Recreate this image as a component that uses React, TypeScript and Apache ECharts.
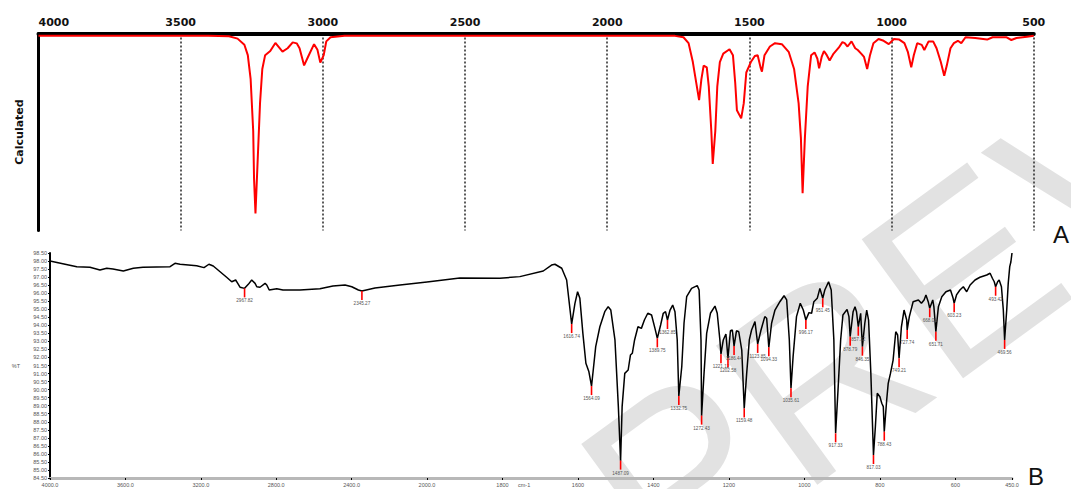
import React, { useEffect, useRef } from "react";
import * as echarts from "echarts";

// Calculated IR spectrum: [wavenumber cm-1, relative intensity]
const calculatedSpectrum: [number, number][] = [
  [4000, 1.2], [3403, 1.2], [3330, 1.4], [3300, 2.6], [3276, 5.7], [3264, 11], [3254, 23.2],
  [3245, 49.4], [3242, 73.9], [3237, 91.4], [3230, 66.9], [3221, 35.4], [3213, 18], [3203, 11],
  [3185, 8.9], [3167, 4.8], [3142, 9.2], [3124, 7.5], [3106, 4.5], [3092, 5], [3082, 7.5],
  [3066, 16.2], [3052, 11.8], [3031, 5.4], [3019, 8.3], [3009, 14.8], [2997, 11], [2988, 4],
  [2973, 1.9], [2924, 1.2], [1762, 1.2], [1732, 1.9], [1714, 4.9], [1699, 14.5], [1689, 23.3],
  [1677, 33.8], [1669, 23.3], [1661, 16.3], [1650, 17.2], [1643, 26.8], [1634, 49.5], [1629, 66.2],
  [1620, 49.5], [1613, 26.8], [1604, 14.5], [1592, 10.2], [1570, 8], [1558, 11], [1550, 25],
  [1544, 39], [1529, 43.1], [1520, 35.5], [1511, 19.8], [1495, 14.5], [1481, 11.4], [1471, 11],
  [1461, 17.2], [1456, 19.4], [1447, 11], [1428, 6.6], [1410, 4.9], [1386, 5.4], [1362, 9.3],
  [1343, 18], [1327, 35.5], [1319, 53], [1313, 81.1], [1305, 53], [1295, 26.8], [1283, 11],
  [1271, 9.6], [1261, 12.8], [1255, 17.7], [1246, 11.9], [1238, 8.9], [1228, 11], [1218, 13.7],
  [1204, 10.2], [1186, 7.2], [1173, 4.4], [1165, 4.9], [1155, 6.6], [1141, 4], [1128, 7.5],
  [1119, 8.4], [1107, 10.2], [1097, 11.9], [1086, 18], [1076, 11], [1064, 4.9], [1046, 2.8],
  [1028, 3.7], [1010, 5.4], [992, 2.8], [973, 3.1], [955, 4.9], [943, 9.3], [931, 17.2],
  [922, 11], [910, 4.9], [894, 5.8], [885, 8.4], [870, 4], [854, 4], [842, 7.5], [827, 14.5],
  [815, 21.5], [806, 16.3], [793, 7.5], [781, 4.9], [767, 3.7], [755, 4.9], [740, 1.9],
  [706, 2.3], [664, 3.1], [645, 1.9], [597, 1.9], [579, 3.3], [561, 2.3], [524, 1.6], [500, 1.2],
];

// Measured FT-IR transmittance: [wavenumber cm-1, %T]
const measuredSpectrum: [number, number][] = [
  [4000, 98.0], [3858, 97.65], [3788, 97.61], [3735, 97.44], [3699, 97.55], [3666, 97.5],
  [3611, 97.38], [3558, 97.55], [3507, 97.61], [3363, 97.65], [3337, 97.86], [3310, 97.8],
  [3222, 97.71], [3183, 97.59], [3157, 97.8], [3134, 97.69], [3063, 96.99], [3036, 96.71],
  [3015, 96.82], [3004, 96.61], [2992, 96.37], [2967.82, 96.3], [2948, 96.55], [2930, 96.82],
  [2912, 96.61], [2903, 96.4], [2886, 96.37], [2859, 96.61], [2850, 96.51], [2837, 96.2],
  [2797, 96.28], [2764, 96.2], [2674, 96.2], [2568, 96.28], [2499, 96.45], [2435, 96.51],
  [2399, 96.4], [2364, 96.2], [2345.27, 96.14], [2276, 96.32], [2143, 96.51], [2000, 96.7],
  [1913, 96.94], [1807, 96.93], [1754, 97.03], [1692, 97.38], [1670, 97.75], [1661, 97.8],
  [1643, 97.55], [1630, 96.82], [1624, 95.58], [1616.74, 94.08], [1608, 95.37], [1601, 96.09],
  [1595, 95.68], [1587, 93.5], [1579, 91.64], [1571, 91.11], [1564.09, 90.22], [1560, 91.11],
  [1553, 92.67], [1542, 93.91], [1529, 94.85], [1520, 95.16], [1513, 94.95], [1502, 93.09],
  [1493, 88.94], [1487.09, 85.58], [1483, 88.94], [1476, 91.01], [1467, 91.22], [1461, 92.15],
  [1456, 92.26], [1450, 93.09], [1441, 93.91], [1432, 93.81], [1424, 94.33], [1415, 94.75],
  [1405, 94.64], [1396, 93.81], [1389.75, 93.19], [1381, 94.02], [1374, 94.75], [1368, 94.85],
  [1362.85, 94.33], [1356, 94.95], [1349, 95.26], [1343, 94.85], [1337, 93.09], [1332.75, 89.6],
  [1325, 91.42], [1319, 94.13], [1312, 95.78], [1299, 96.3], [1284, 96.47], [1279, 96.2],
  [1274, 93.09], [1272.43, 88.38], [1266, 91.01], [1259, 93.5], [1249, 94.75], [1237, 95.2],
  [1231, 94.75], [1224, 93.09], [1221.12, 92.2], [1215, 93.09], [1208, 93.46], [1202.58, 91.95],
  [1196, 93.66], [1191, 93.71], [1186.44, 92.71], [1180, 93.66], [1174, 93.6], [1166, 92.46],
  [1159.48, 88.83], [1153, 91.01], [1146, 93.09], [1140, 93.71], [1131, 94.23], [1123.85, 92.84],
  [1115, 93.71], [1105, 94.54], [1100, 94.44], [1094.33, 92.63], [1087, 94.13], [1078, 94.95],
  [1065, 95.47], [1054, 95.84], [1047, 95.58], [1040, 93.09], [1035.61, 90.08], [1030, 92.05],
  [1021, 94.54], [1011, 95.37], [1003, 94.95], [996.17, 94.33], [988, 94.79], [981, 94.75],
  [975, 95.47], [966, 95.68], [959, 96.3], [951.45, 95.68], [946, 96.2], [936, 96.71],
  [929, 96.2], [922, 93.09], [917.33, 87.28], [911, 89.97], [904, 93.09], [898, 94.64],
  [887, 94.99], [882, 94.54], [878.79, 93.29], [871, 94.85], [866, 95.16], [862, 94.85],
  [857.32, 93.91], [851, 94.75], [846.35, 92.67], [840, 94.13], [835, 94.95], [830, 94.33],
  [824, 91.01], [817.03, 85.93], [812, 87.69], [807, 89.77], [800, 89.56], [795, 89.15],
  [791, 88.94], [788.43, 87.38], [782, 89.35], [778, 90.39], [772, 91.01], [765, 91.84],
  [758, 93.6], [753, 93.4], [749.21, 91.95], [743, 93.91], [736, 94.95], [729, 94.33],
  [727.74, 93.71], [722, 94.54], [712, 95.47], [698, 95.58], [690, 95.37], [683, 95.58],
  [678, 95.89], [672, 95.47], [668.01, 95.06], [660, 95.58], [657, 95.16], [651.71, 93.6],
  [645, 95.16], [636, 95.78], [625, 96.09], [613, 96.2], [606, 95.68], [603.23, 95.37],
  [597, 95.89], [588, 96.2], [579, 96.4], [570, 96.09], [561, 96.51], [548, 96.82],
  [535, 96.99], [517, 97.13], [508, 97.24], [502, 96.93], [497, 96.71], [493.42, 96.4],
  [488, 96.71], [484, 96.82], [478, 96.4], [473, 94.95], [469.56, 93.09], [464, 94.95],
  [460, 96.61], [456, 97.65], [453, 97.94], [450, 98.5],
];

// Picked peak positions (cm-1) on the measured spectrum
const measuredPeaks: number[] = [
  2967.82, 2345.27, 1616.74, 1564.09, 1487.09, 1389.75, 1362.85, 1332.75, 1272.43, 1221.12,
  1202.58, 1186.44, 1159.48, 1123.85, 1094.33, 1035.61, 996.17, 951.45, 917.33, 878.79,
  857.32, 846.35, 817.03, 788.43, 749.21, 727.74, 668.01, 651.71, 603.23, 493.42, 469.56,
];

// Tick labels of the fingerprint region (2x expanded scale below 2000 cm-1)
const fingerprintTicks: number[] = [1800, 1600, 1400, 1200, 1000, 800, 600, 450];

const SPLIT = 2000;
const smallFont = '"Liberation Sans", Arial, sans-serif';

function peakSeries(peaks: [number, number][], xAxisIndex: number, yAxisIndex: number) {
  return {
    type: "custom",
    xAxisIndex,
    yAxisIndex,
    data: peaks,
    z: 5,
    renderItem: (params: any, api: any) => {
      const p = api.coord([api.value(0), api.value(1)]);
      const label = peaks[params.dataIndex][0].toFixed(2);
      return {
        type: "group",
        children: [
          {
            type: "line",
            shape: { x1: p[0], y1: p[1], x2: p[0], y2: p[1] + 9 },
            style: { stroke: "#ff0000", lineWidth: 1.6 },
          },
          {
            type: "text",
            x: p[0],
            y: p[1] + 10,
            style: {
              text: label,
              fontSize: 4.6,
              fontFamily: smallFont,
              fill: "#555",
              align: "center",
              verticalAlign: "top",
            },
          },
        ],
      };
    },
  };
}

export default function App() {
  const ref = useRef<HTMLDivElement>(null);

  useEffect(() => {
    if (!ref.current) return;
    const chart = echarts.init(ref.current, null, { renderer: "svg" });

    const peakData: [number, number][] = measuredPeaks.map((wn) => {
      const pt = measuredSpectrum.find((d) => d[0] === wn);
      return [wn, pt ? pt[1] : 0];
    });

    const bottomAxisLine = { lineStyle: { color: "#b8b8b8", width: 3 } };
    const bottomTick = { show: true, length: 2, lineStyle: { color: "#000", width: 1 } };

    const option: any = {
      animation: false,
      backgroundColor: "#ffffff",
      grid: [
        { left: 38.5, top: 33.5, width: 995.3, height: 197 },
        { left: 50, top: 253, width: 377, height: 225 },
        { left: 427, top: 253, width: 585, height: 225 },
      ],
      xAxis: [
        {
          gridIndex: 0,
          type: "value",
          position: "top",
          inverse: true,
          min: 500,
          max: 4000,
          interval: 500,
          axisLine: { show: true, lineStyle: { color: "#000", width: 4 } },
          axisTick: { show: false },
          axisLabel: {
            margin: 6,
            fontFamily: '"DejaVu Sans", Verdana, sans-serif',
            fontWeight: "bold",
            fontSize: 11,
            color: "#111",
            alignMaxLabel: "left",
            formatter: (v: number) => String(v),
          },
          splitLine: { show: true, lineStyle: { color: "#333", width: 1.6, type: [2, 2] } },
        },
        {
          gridIndex: 1,
          type: "value",
          inverse: true,
          min: SPLIT,
          max: 4000,
          interval: 400,
          axisLine: bottomAxisLine,
          axisTick: bottomTick,
          axisLabel: {
            margin: 4,
            fontSize: 5.5,
            fontFamily: smallFont,
            color: "#555",
            formatter: (v: number) => v.toFixed(1),
          },
          splitLine: { show: false },
        },
        {
          gridIndex: 2,
          type: "value",
          inverse: true,
          min: 450,
          max: SPLIT,
          axisLine: bottomAxisLine,
          axisTick: { ...bottomTick, customValues: fingerprintTicks },
          axisLabel: {
            margin: 4,
            fontSize: 5.5,
            fontFamily: smallFont,
            color: "#555",
            customValues: fingerprintTicks,
            formatter: (v: number) => (v === 450 ? "450.0" : String(v)),
          },
          splitLine: { show: false },
        },
      ],
      yAxis: [
        {
          gridIndex: 0,
          type: "value",
          inverse: true,
          min: 0,
          max: 100,
          axisLine: { show: true, lineStyle: { color: "#000", width: 3 } },
          axisTick: { show: false },
          axisLabel: { show: false },
          splitLine: { show: false },
          name: "Calculated",
          nameLocation: "middle",
          nameRotate: 90,
          nameGap: 14,
          nameTextStyle: {
            fontFamily: '"DejaVu Sans", Verdana, sans-serif',
            fontWeight: "bold",
            fontSize: 11,
            color: "#111",
          },
        },
        {
          gridIndex: 1,
          type: "value",
          min: 84.5,
          max: 98.5,
          interval: 0.5,
          axisLine: { show: true, lineStyle: { color: "#000", width: 2 } },
          axisTick: { show: true, length: 2, lineStyle: { color: "#000" } },
          axisLabel: {
            margin: 3,
            fontSize: 5.5,
            fontFamily: smallFont,
            color: "#555",
            formatter: (v: number) => v.toFixed(2),
          },
          splitLine: { show: false },
          name: "%T",
          nameLocation: "middle",
          nameRotate: 0,
          nameGap: 30,
          nameTextStyle: { fontSize: 5.5, fontFamily: smallFont, color: "#555" },
        },
        {
          gridIndex: 2,
          type: "value",
          min: 84.5,
          max: 98.5,
          show: false,
        },
      ],
      series: [
        {
          type: "line",
          xAxisIndex: 0,
          yAxisIndex: 0,
          data: calculatedSpectrum,
          showSymbol: false,
          lineStyle: { color: "#ff0000", width: 2 },
          z: 4,
        },
        {
          type: "line",
          xAxisIndex: 1,
          yAxisIndex: 1,
          data: measuredSpectrum.filter((d) => d[0] >= SPLIT),
          showSymbol: false,
          lineStyle: { color: "#000", width: 1.5 },
          z: 4,
        },
        {
          type: "line",
          xAxisIndex: 2,
          yAxisIndex: 2,
          data: measuredSpectrum.filter((d) => d[0] <= SPLIT),
          showSymbol: false,
          lineStyle: { color: "#000", width: 1.5 },
          z: 4,
        },
        peakSeries(peakData.filter((d) => d[0] > SPLIT), 1, 1),
        peakSeries(peakData.filter((d) => d[0] <= SPLIT), 2, 2),
      ],
      graphic: [
        {
          type: "text",
          x: 615,
          y: 525,
          rotation: 0.63,
          z: -10,
          silent: true,
          style: {
            text: "PREVIEW",
            fontSize: 250,
            fontFamily: '"Liberation Sans", Arial, sans-serif',
            fill: "#e2e2e2",
            align: "left",
            verticalAlign: "middle",
          },
        },
        {
          type: "text",
          left: 1053,
          top: 222,
          style: { text: "A", fontSize: 24, fontFamily: '"Liberation Sans", Arial, sans-serif', fill: "#111" },
        },
        {
          type: "text",
          left: 1028,
          top: 464,
          style: { text: "B", fontSize: 24, fontFamily: '"Liberation Sans", Arial, sans-serif', fill: "#111" },
        },
        {
          type: "text",
          left: 518,
          top: 482,
          style: { text: "cm-1", fontSize: 5.5, fontFamily: smallFont, fill: "#555" },
        },
      ],
    };

    chart.setOption(option);
    return () => chart.dispose();
  }, []);

  return (
    <div
      ref={ref}
      style={{ position: "fixed", left: 0, top: 0, width: 1071, height: 489, background: "#fff" }}
    />
  );
}
